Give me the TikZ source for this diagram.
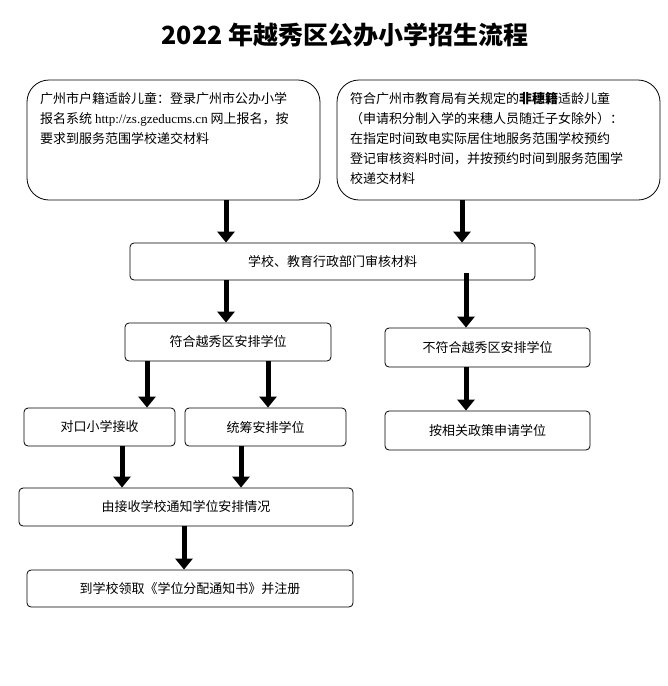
\documentclass[tikz,border=0pt]{standalone}
\usepackage{fontspec}
\setmainfont{Noto Sans CJK SC}
\newfontfamily\serifen{Liberation Serif}
\usetikzlibrary{arrows.meta}
\begin{document}
\begin{tikzpicture}[x=1pt,y=-1pt,
  box/.style={draw,thick,rounded corners=4pt,font=\fontsize{13}{15}\selectfont,inner sep=0pt},
  arr/.style={line width=5pt,-{Triangle[width=17pt,length=11pt]}}]
\useasboundingbox (0,0) rectangle (668,686);
\node[font=\bfseries\fontsize{25}{28}\selectfont] (title) at (345,35) {2022 年越秀区公办小学招生流程};
\draw[thick,rounded corners=22pt] (27,80) rectangle (320,200);
\node[anchor=north west,align=left,font=\fontsize{13}{20}\selectfont,inner sep=0pt] (A) at (40,92) {广州市户籍适龄儿童：登录广州市公办小学\\报名系统 {\serifen http://zs.gzeducms.cn} 网上报名，按\\要求到服务范围学校递交材料};
\coordinate (As) at (226,200);
\draw[thick,rounded corners=22pt] (337,80) rectangle (660,200);
\node[anchor=north west,align=left,font=\fontsize{13}{20}\selectfont,inner sep=0pt] (B) at (350,92) {符合广州市教育局有关规定的\textbf{非穗籍}适龄儿童\\（申请积分制入学的来穗人员随迁子女除外）：\\在指定时间致电实际居住地服务范围学校预约\\登记审核资料时间，并按预约时间到服务范围学\\校递交材料};
\coordinate (Bs) at (462,200);
\node[box,minimum width=405pt,minimum height=37pt] (C) at (332.5,261.5) {学校、教育行政部门审核材料};
\node[box,minimum width=206pt,minimum height=38pt] (D) at (228,342) {符合越秀区安排学位};
\node[box,minimum width=205pt,minimum height=39pt] (E) at (487.5,347.5) {不符合越秀区安排学位};
\node[box,minimum width=151pt,minimum height=38pt] (F) at (99.5,427) {对口小学接收};
\node[box,minimum width=161pt,minimum height=38pt] (G) at (265.5,427) {统筹安排学位};
\node[box,minimum width=205pt,minimum height=39pt] (H) at (487.5,430.5) {按相关政策申请学位};
\node[box,minimum width=334pt,minimum height=38pt] (I) at (186,507) {由接收学校通知学位安排情况};
\node[box,minimum width=326pt,minimum height=37pt] (J) at (190,588.5) {到学校领取《学位分配通知书》并注册};
\draw[arr] (As) -- (C.north -| As);
\draw[arr] (Bs) -- (C.north -| Bs);
\draw[arr] (C.south -| 226,0) -- (D.north -| 226,0);
\draw[arr] ([yshift=7pt]C.south -| 466,0) -- (E.north -| 466,0);
\draw[arr] (D.south -| 147,0) -- (F.north -| 147,0);
\draw[arr] (D.south -| 268,0) -- (G.north -| 268,0);
\draw[arr] (E.south -| 466,0) -- (H.north -| 466,0);
\draw[arr] (F.south -| 122,0) -- (I.north -| 122,0);
\draw[arr] (G.south -| 241,0) -- (I.north -| 241,0);
\draw[arr] (I.south -| 184,0) -- (J.north -| 184,0);
\end{tikzpicture}
\end{document}
